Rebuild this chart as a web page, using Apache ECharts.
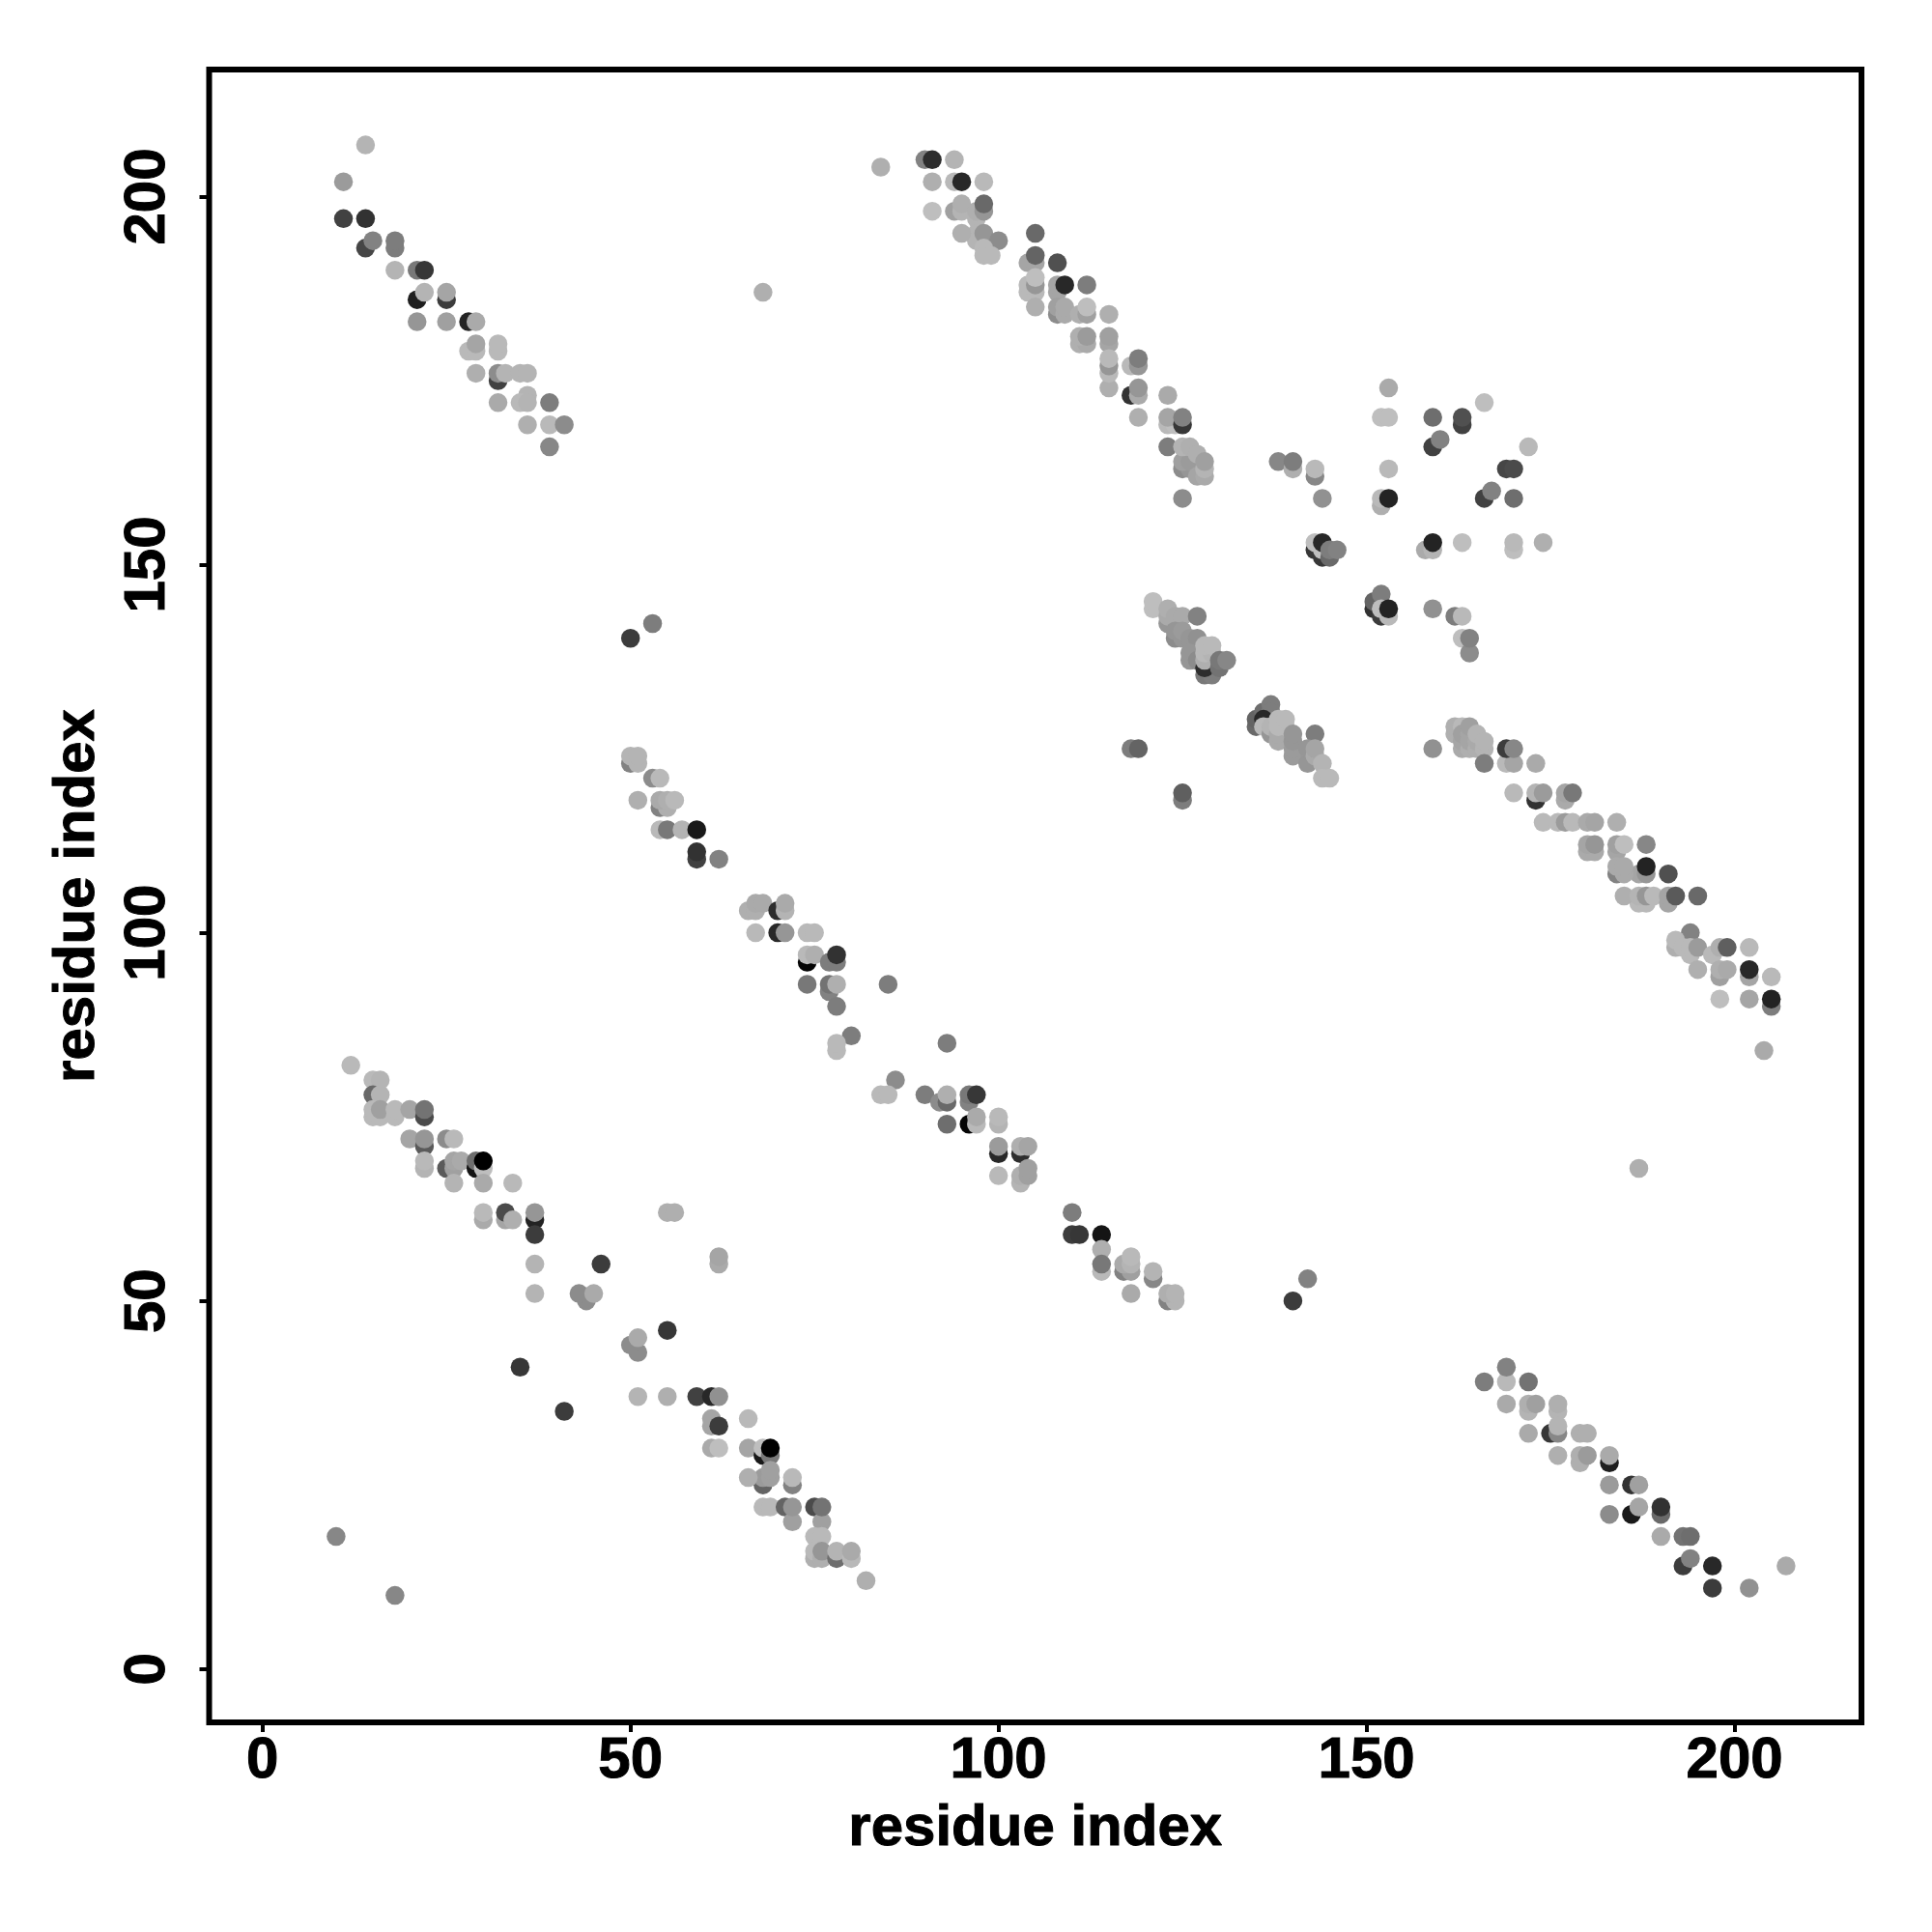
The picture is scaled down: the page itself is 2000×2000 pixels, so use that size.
<!DOCTYPE html>
<html>
<head>
<meta charset="utf-8">
<style>html,body{margin:0;padding:0;background:#fff}#c{width:2000px;height:2000px}</style>
<script src="https://cdn.jsdelivr.net/npm/echarts@6/dist/echarts.min.js"></script>
</head>
<body>
<div id="c"></div>
<script>
// each row: residue x, residue y, grey level of the dot
const strandTopLeft = [[14,207,180],[11,202,155],[11,197,65],[14,197,50],[14,193,70],[15,194,130],[18,193,125],[18,194,125],[18,190,180],[21,190,120],[22,190,55],[21,186,30],[22,187,180],[25,186,60],[25,187,165],[21,183,150],[25,183,160],[28,183,35],[29,183,170],[28,179,185],[29,179,185],[29,180,165],[32,179,185],[32,180,185],[29,176,175],[32,175,65],[32,176,140],[33,176,180],[35,176,180],[36,176,180],[36,173,180],[32,172,170],[35,172,185],[36,172,180],[39,172,125],[36,169,175],[39,169,185],[41,169,140],[39,166,135]];
const strandTopMiddle = [[84,204,175],[90,205,130],[91,205,45],[94,205,180],[91,202,175],[94,202,185],[95,202,40],[98,202,185],[91,198,190],[94,198,160],[95,198,180],[95,199,175],[97,197,180],[97,198,175],[98,198,150],[98,199,105],[97,194,180],[97,195,180],[95,195,175],[98,195,150],[100,194,140],[98,193,185],[98,192,185],[99,192,185],[105,195,105],[104,191,165],[105,191,165],[105,192,100],[108,191,80],[105,187,185],[104,187,185],[104,188,185],[105,188,150],[105,189,190],[105,185,175],[108,187,165],[108,188,165],[109,188,40],[112,188,125],[108,184,140],[108,185,160],[109,184,170],[109,185,170],[111,184,175],[112,184,160],[112,185,190],[115,184,175],[111,180,175],[112,180,170],[111,181,175],[112,181,155],[115,180,165],[115,181,160],[115,174,175],[115,176,185],[115,177,150],[115,178,185],[118,177,185],[119,177,150],[119,178,125],[118,173,50],[119,173,170],[119,174,150],[119,170,175],[123,173,170],[123,169,185],[124,169,190],[123,170,165],[125,169,55],[125,170,130],[123,166,125],[125,163,140],[126,163,150],[125,164,160],[126,164,155],[125,166,180],[126,166,175],[127,165,175],[127,162,165],[128,162,170],[128,163,180],[128,164,160],[125,159,140],[138,164,135],[140,163,175],[140,164,125]];
const clusterUpperRight = [[143,162,135],[143,163,185],[144,159,145],[153,163,185],[153,174,170],[152,170,190],[153,170,190],[152,158,175],[152,159,185],[153,159,35],[159,170,110],[163,169,65],[163,170,80],[166,172,190],[159,166,65],[160,167,130],[172,166,185],[169,163,70],[170,163,75],[166,159,65],[167,160,130],[170,159,110],[143,152,55],[144,151,55],[144,152,190],[143,153,190],[144,153,40],[145,151,105],[145,152,125],[146,152,130],[158,152,170],[159,152,180],[159,153,35],[163,153,190],[170,152,190],[170,153,185],[174,153,175],[151,144,50],[152,143,60],[151,145,100],[152,146,125],[152,144,190],[153,143,185],[153,144,35],[159,144,145],[162,143,125],[163,143,185],[163,140,190],[164,138,140],[164,140,130]];
const clusterCentreA = [[121,144,190],[121,145,190],[123,142,150],[123,143,170],[123,144,175],[124,143,170],[125,143,170],[127,143,130],[124,140,140],[124,141,150],[125,140,150],[125,141,155],[126,140,150],[127,140,145],[126,137,150],[126,138,150],[127,137,140],[128,135,120],[129,135,125],[128,136,45],[128,137,175],[128,138,185],[129,138,180],[128,139,185],[129,139,185],[130,136,115],[130,137,120],[131,137,135]];
const clusterCentreB = [[135,128,105],[135,129,100],[136,130,110],[137,131,125],[137,130,125],[136,129,40],[136,128,185],[137,127,150],[137,128,180],[138,126,170],[138,127,170],[138,128,185],[139,128,185],[138,129,185],[139,129,185],[140,124,155],[140,125,155],[140,126,150],[140,127,150],[143,127,125],[142,123,150],[142,125,150],[143,124,170],[143,125,165],[144,123,180],[144,121,185],[145,121,185],[118,125,125],[119,125,100],[125,118,125],[125,119,95]];
const strandRight = [[162,127,175],[162,128,175],[163,128,185],[163,125,170],[163,126,165],[163,127,160],[164,125,175],[164,126,165],[164,127,165],[164,128,160],[165,125,175],[165,126,170],[165,127,180],[166,125,180],[166,126,180],[159,125,145],[166,123,125],[169,123,185],[170,123,165],[169,125,60],[170,125,135],[173,123,170],[170,119,185],[173,118,50],[173,119,180],[174,119,155],[177,118,170],[177,119,165],[178,119,120],[174,115,185],[176,115,185],[177,115,155],[178,115,185],[180,115,170],[181,115,165],[184,115,175],[180,111,170],[181,111,170],[180,112,165],[181,112,150],[184,111,165],[184,112,160],[185,112,190],[188,112,135],[187,108,165],[188,108,150],[188,109,35],[184,108,130],[185,108,170],[184,109,170],[185,109,170],[191,108,80],[187,104,185],[188,104,185],[185,105,175],[187,105,180],[188,105,150],[189,105,185],[191,104,165],[191,105,165],[192,105,90],[195,105,105],[194,100,130],[192,98,175],[192,99,185],[193,98,185],[194,97,185],[194,98,185],[195,98,155],[197,97,185],[198,98,175],[199,98,95],[202,98,185],[195,95,175],[198,94,160],[198,95,175],[199,95,170],[202,94,165],[202,95,40],[205,94,185],[198,91,190],[202,91,165],[205,90,125],[205,91,35],[204,84,170],[187,68,175]];
const strandCentreUpper = [[50,123,130],[51,123,180],[50,124,180],[51,124,180],[53,121,140],[54,121,185],[51,118,175],[54,117,130],[55,117,175],[54,118,170],[55,118,175],[56,118,185],[54,114,185],[55,114,120],[57,114,180],[59,114,25],[59,110,65],[59,111,50],[62,110,130],[66,103,175],[67,103,175],[67,104,170],[68,104,170],[70,103,45],[71,103,180],[71,104,170],[67,100,185],[70,100,40],[71,100,150],[74,100,185],[75,100,185],[74,96,5],[74,97,185],[75,97,175],[77,96,125],[78,96,125],[78,97,50],[74,93,120],[77,92,130],[77,93,115],[78,93,175],[78,90,125],[85,93,125],[80,86,125],[78,84,185],[78,85,185]];
const strandCentreLower = [[93,85,125],[86,80,140],[84,78,185],[85,78,185],[90,78,125],[92,77,140],[93,77,105],[93,78,175],[93,74,110],[96,77,130],[96,78,120],[97,78,55],[96,74,5],[97,74,185],[97,75,170],[100,74,180],[100,75,185],[100,70,40],[100,71,155],[103,70,45],[103,71,175],[104,71,165],[100,67,185],[103,66,180],[103,67,175],[104,67,160],[104,68,160],[110,62,125],[110,59,60],[111,59,55],[114,59,20],[114,57,175],[114,54,185],[114,55,120],[117,54,130],[118,54,160],[117,55,170],[118,55,180],[118,56,185],[121,53,135],[121,54,180],[118,51,170],[123,50,130],[124,50,180],[123,51,175],[124,51,180]];
const strandLeftLower = [[12,82,185],[15,80,185],[16,80,180],[15,78,105],[16,78,180],[15,75,185],[16,75,185],[15,76,185],[16,76,160],[18,75,185],[18,76,185],[20,76,165],[22,75,75],[22,76,115],[20,72,165],[22,71,90],[22,72,150],[25,72,140],[26,72,185],[22,68,180],[22,69,185],[25,68,90],[26,68,160],[26,69,165],[27,69,170],[29,68,20],[29,69,110],[30,68,190],[30,69,0],[26,66,180],[30,66,170],[34,66,185],[30,61,170],[30,62,185],[33,61,165],[33,62,75],[34,61,175],[37,61,35],[37,62,150],[37,59,60],[55,62,175],[56,62,175],[37,55,180],[46,55,60],[37,51,180],[44,50,140],[43,51,140],[45,51,170],[55,46,55],[51,43,140],[50,44,140],[51,45,170],[35,41,55]];
const strandBottomMiddle = [[51,37,180],[55,37,175],[59,37,65],[61,37,40],[62,37,145],[61,33,165],[61,34,165],[62,33,60],[66,34,185],[61,30,170],[62,30,190],[66,30,165],[68,29,25],[68,30,190],[69,29,120],[69,30,0],[68,25,100],[68,26,155],[69,26,160],[69,27,160],[66,26,175],[72,25,130],[72,26,185],[68,22,185],[69,22,185],[71,22,100],[72,20,160],[72,22,150],[75,22,75],[76,20,160],[76,22,115],[75,18,185],[76,18,185],[75,15,175],[75,16,185],[76,15,175],[76,16,150],[78,15,110],[78,16,180],[80,15,185],[80,16,170],[82,12,175]];
const strandBottomRight = [[166,39,125],[169,39,185],[169,41,130],[172,39,115],[169,36,170],[172,35,180],[172,36,175],[173,36,160],[176,35,180],[176,36,175],[172,32,170],[175,32,55],[176,32,135],[176,33,180],[179,32,175],[180,32,175],[176,29,175],[179,28,175],[179,29,175],[180,29,155],[183,28,30],[183,29,170],[183,25,155],[186,25,50],[187,25,160],[183,21,140],[186,21,25],[187,22,165],[190,21,105],[190,22,50],[190,18,170],[193,18,115],[194,18,110],[193,14,60],[194,15,130],[197,14,40],[197,11,60],[202,11,145],[207,14,170]];
const isolated = [[10,18,135],[18,10,135],[68,187,175],[50,140,60],[53,142,125],[41,35,60],[62,55,170],[62,56,165],[140,50,60],[142,53,130]];
const tickValues = [0, 50, 100, 150, 200];
const axisMin = -7.25, axisMax = 217.25;

const contacts = [].concat(strandTopLeft, strandTopMiddle, clusterUpperRight, clusterCentreA, clusterCentreB,
  strandRight, strandCentreUpper, strandCentreLower, strandLeftLower, strandBottomMiddle, strandBottomRight, isolated);

const font = 'Liberation Sans';
function axis(rot, margin, gap) {
  return {
    type: 'value', min: axisMin, max: axisMax,
    name: 'residue index', nameLocation: 'middle', nameGap: gap,
    nameTextStyle: {fontFamily: font, fontWeight: 'bold', fontSize: 60, color: '#000', textBorderColor: '#000', textBorderWidth: 1},
    axisLine: {show: false, onZero: false},
    splitLine: {show: false},
    axisTick: {show: true, length: 10, lineStyle: {color: '#000', width: 4}, customValues: tickValues},
    axisLabel: {show: true, rotate: rot, margin: margin, fontFamily: font, fontWeight: 'bold', fontSize: 60, color: '#000',
      textBorderColor: '#000', textBorderWidth: 1,
      customValues: tickValues, showMinLabel: true, showMaxLabel: true, hideOverlap: false}
  };
}
const chart = echarts.init(document.getElementById('c'), null, {renderer: 'canvas'});
chart.setOption({
  animation: false,
  backgroundColor: '#fff',
  grid: {show: true, left: 216.5, right: 73, top: 72, bottom: 217, borderColor: '#000', borderWidth: 6, backgroundColor: '#fff'},
  xAxis: axis(0, 10, 80),
  yAxis: axis(90, 33, 106),
  series: [{
    type: 'scatter', data: contacts, symbol: 'circle', symbolSize: 19.5,
    encode: {x: 0, y: 1}, silent: true, progressive: 0, large: false,
    itemStyle: {opacity: 1, color: p => { const g = p.value[2]; return 'rgb(' + g + ',' + g + ',' + g + ')'; }}
  }]
});
</script>
</body>
</html>
